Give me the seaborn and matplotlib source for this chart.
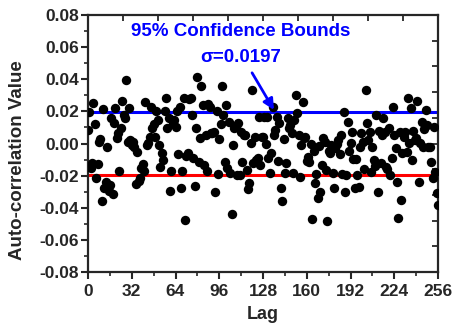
import numpy as np
import pandas as pd
import matplotlib
matplotlib.use("Agg")
import matplotlib.pyplot as plt
import seaborn as sns
from matplotlib.ticker import MultipleLocator

# Autocorrelation of the residual sequence for lags 0..256
lags = list(range(257))
acf = [
    0.0084, 0.0198, -0.0155, -0.0120, 0.0250, 0.0119, -0.0217, -0.0128, 0.0007, 0.0025,   # 0-9
    -0.0358, 0.0215, -0.0279, -0.0238, -0.0020, -0.0295, -0.0259, 0.0157, -0.0316, 0.0125,  # 10-19
    0.0223, 0.0036, 0.0063, -0.0171, 0.0098, 0.0265, 0.0175, 0.0157, 0.0395, 0.0011,      # 20-29
    0.0223, 0.0020, -0.0010, 0.0007, -0.0020, -0.0254, -0.0055, -0.0235, -0.0217, -0.0155,  # 30-39
    -0.0130, -0.0171, 0.0260, -0.0009, 0.0005, 0.0042, 0.0229, 0.0094, 0.0120, 0.0040,    # 40-49
    0.0200, 0.0146, -0.0009, -0.0144, -0.0061, -0.0103, 0.0200, 0.0285, 0.0094, 0.0157,   # 50-59
    -0.0296, -0.0171, 0.0125, 0.0146, 0.0104, 0.0205, -0.0067, 0.0229, -0.0275, -0.0171,  # 60-69
    0.0281, -0.0476, -0.0075, -0.0061, 0.0275, 0.0281, 0.0177, -0.0092, -0.0263, 0.0098,  # 70-79
    0.0416, -0.0113, 0.0036, 0.0360, 0.0240, -0.0134, 0.0053, -0.0171, 0.0245, 0.0229,    # 80-89
    0.0063, 0.0068, 0.0073, -0.0300, 0.0202, -0.0192, 0.0028, 0.0119, 0.0360, 0.0177,     # 90-99
    -0.0113, 0.0240, -0.0153, 0.0135, -0.0186, -0.0441, -0.0009, 0.0094, 0.0105, -0.0195, # 100-109
    0.0126, -0.0196, 0.0073, -0.0113, 0.0053, 0.0050, -0.0165, -0.0283, -0.0245, 0.0001,  # 110-119
    0.0333, -0.0123, 0.0042, -0.0105, -0.0092, 0.0167, -0.0134, 0.0040, 0.0042, 0.0165,   # 120-129
    -0.0005, 0.0167, -0.0092, -0.0186, -0.0061, 0.0229, 0.0053, 0.0084, 0.0167, -0.0109,  # 130-139
    0.0126, -0.0279, -0.0358, 0.0028, -0.0186, -0.0123, 0.0157, 0.0094, 0.0115, 0.0063,   # 140-149
    -0.0186, 0.0146, 0.0302, 0.0188, 0.0055, -0.0207, -0.0009, 0.0256, 0.0035, 0.0042,    # 150-159
    -0.0110, -0.0082, -0.0117, -0.0005, -0.0470, -0.0045, -0.0248, -0.0192, -0.0341, -0.0014,  # 160-169
    -0.0300, -0.0134, 0.0032, 0.0010, -0.0165, -0.0483, -0.0047, -0.0061, -0.0009, -0.0186,    # 170-179
    -0.0279, -0.0030, -0.0005, 0.0022, -0.0067, 0.0050, -0.0192, 0.0194, -0.0304, -0.0195,     # 180-189
    0.0132, -0.0047, 0.0001, 0.0073, -0.0097, -0.0279, -0.0097, -0.0196, -0.0270, -0.0020,     # 190-199
    0.0063, 0.0011, -0.0160, 0.0333, 0.0126, 0.0022, 0.0073, -0.0180, -0.0020, -0.0103,       # 200-209
    -0.0140, 0.0177, -0.0300, 0.0080, -0.0123, 0.0053, 0.0160, 0.0073, -0.0144, -0.0160,      # 210-219
    0.0098, -0.0196, -0.0092, 0.0229, 0.0050, -0.0030, -0.0242, -0.0462, 0.0073, -0.0352,     # 220-229
    -0.0060, 0.0040, 0.0070, -0.0051, 0.0281, 0.0001, 0.0219, -0.0103, 0.0075, 0.0022,        # 230-239
    0.0035, 0.0265, -0.0238, 0.0005, 0.0136, -0.0020, 0.0090, 0.0209, 0.0115, -0.0020,        # 240-249
    -0.0020, -0.0113, -0.0217, 0.0104, -0.0176, -0.0310, -0.0383,                             # 250-256
]
sigma = 0.0197

x_ticks = [0, 32, 64, 96, 128, 160, 192, 224, 256]
y_ticks = [-0.08, -0.06, -0.04, -0.02, 0.00, 0.02, 0.04, 0.06, 0.08]

sns.set_style("ticks")
plt.rcParams["font.family"] = ["Liberation Sans", "DejaVu Sans"]
plt.rcParams["font.weight"] = "bold"

df = pd.DataFrame({"Lag": lags, "ACF": acf})

fig = plt.figure(figsize=(4.54, 3.26), dpi=100)
ax = fig.add_axes([88 / 454, 54 / 326, 350 / 454, 257 / 326])

sns.scatterplot(data=df, x="Lag", y="ACF", ax=ax, color="black",
                s=46, linewidth=0, zorder=3, legend=False)

ax.axhline(sigma, color="#0000ff", lw=2.2, zorder=2)
ax.axhline(-sigma, color="#ff0000", lw=2.2, zorder=2)

ax.set_xlim(0, 256)
ax.set_ylim(-0.08, 0.08)
ax.set_xticks(x_ticks)
ax.set_yticks(y_ticks)
ax.xaxis.set_minor_locator(MultipleLocator(16))
ax.yaxis.set_minor_locator(MultipleLocator(0.01))
ax.set_yticklabels([f"{v:.2f}" for v in y_ticks])

for sp in ax.spines.values():
    sp.set_linewidth(1.6)
    sp.set_visible(True)

ax.tick_params(which="major", direction="out", length=5, width=1.5,
               labelsize=12.5)
ax.tick_params(axis="x", which="major", pad=4)
ax.tick_params(axis="y", which="major", pad=1.5)
ax.tick_params(which="minor", direction="out", length=3, width=1.2)

# Top and right axes carry their own tick spacing, inward
top = ax.secondary_xaxis("top")
top.set_xticks(np.arange(0, 256.1, 25.6))
top.tick_params(direction="in", length=4, width=1.3, labeltop=False)
top.spines["top"].set_visible(False)
right = ax.secondary_yaxis("right")
right.set_yticks(np.arange(-0.08, 0.0801, 0.016))
right.tick_params(direction="in", length=4, width=1.3, labelright=False)
right.spines["right"].set_visible(False)

ax.set_xlabel("Lag", fontsize=13, fontweight="bold", labelpad=5)
ax.set_ylabel("Auto-correlation Value", fontsize=13.5, fontweight="bold")
ax.yaxis.set_label_coords(-0.178, 0.436)

ax.text(112, 0.0700, "95% Confidence Bounds", color="#0000ff", fontsize=13.5,
        fontweight="bold", ha="center", va="center")
ax.text(112, 0.0533, "σ=0.0197", color="#0000ff", fontsize=13.5,
        fontweight="bold", ha="center", va="center")
ax.annotate("", xy=(136, 0.0209), xytext=(120, 0.0440),
            arrowprops=dict(arrowstyle="-|>", color="#0000ff", lw=2,
                            mutation_scale=16, shrinkA=0, shrinkB=0))

fig.savefig("out.png", dpi=100)
